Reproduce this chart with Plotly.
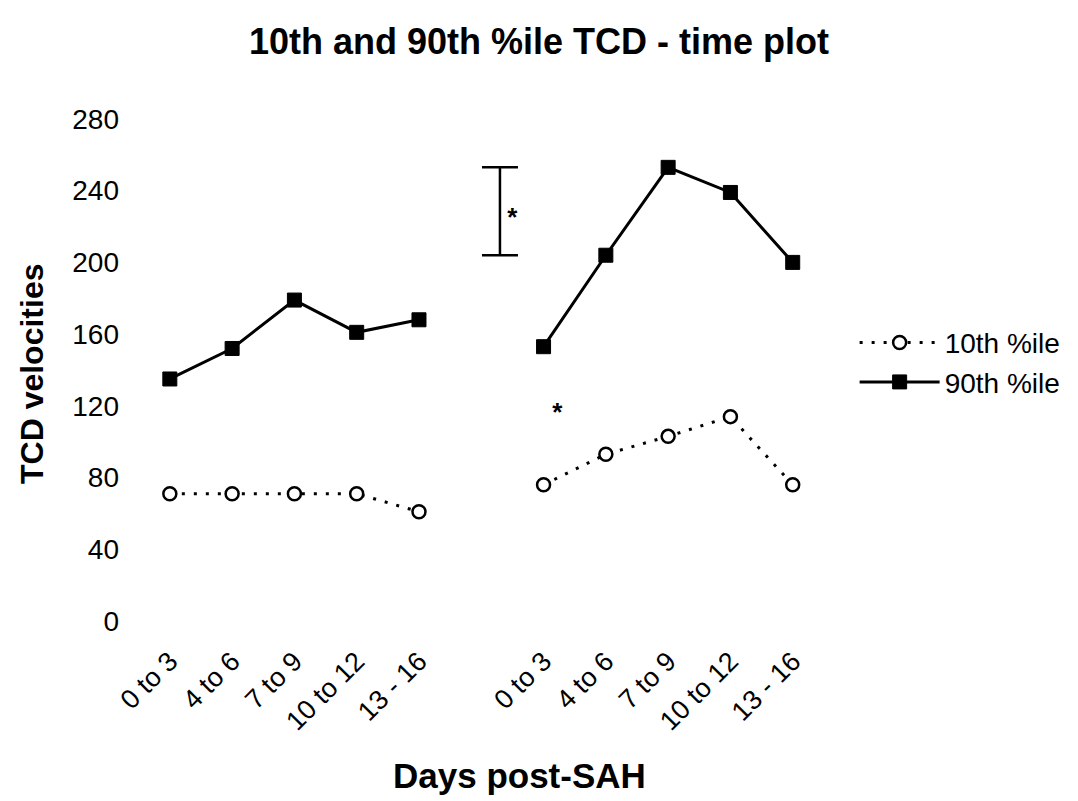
import plotly.graph_objects as go

# ---- data ----
categories = ["0 to 3", "4 to 6", "7 to 9", "10 to 12", "13 - 16"]
p10_group1 = [71, 71, 71, 71, 61]
p10_group2 = [76, 93, 103, 114, 76]
p90_group1 = [135, 152, 179, 161, 168]
p90_group2 = [153, 204, 253, 239, 200]
y_ticks = [0, 40, 80, 120, 160, 200, 240, 280]
# significance bracket between groups (low/high) and asterisks
bracket_low, bracket_high = 204, 253
star_values = [224, 115]

FONT = "Liberation Sans, Arial, sans-serif"

# the page body adds an 8px offset; the figure is sized to fit the window
W, H = 1070, 793

n = len(categories)
x1 = list(range(n))
x2 = [i + n + 1 for i in range(n)]
xs = x1 + [None] + x2
tickvals = x1 + x2
ticktext = categories + categories

fig = go.Figure()

fig.add_trace(go.Scatter(
    x=xs, y=p10_group1 + [None] + p10_group2,
    mode="lines+markers", name="10th %ile",
    line=dict(color="black", width=3, dash="3px,9px"),
    marker=dict(symbol="circle", size=13, color="white",
                line=dict(color="black", width=2.5)),
    connectgaps=False,
))
fig.add_trace(go.Scatter(
    x=xs, y=p90_group1 + [None] + p90_group2,
    mode="lines+markers", name="90th %ile",
    line=dict(color="black", width=3),
    marker=dict(symbol="square", size=14, color="black",
                line=dict(color="black", width=1)),
    connectgaps=False,
))

# bracket (drawn as an error bar)
bx = n + 0.3
fig.add_trace(go.Scatter(
    x=[bx], y=[(bracket_low + bracket_high) / 2],
    mode="markers", marker=dict(size=1, color="rgba(0,0,0,0)"),
    error_y=dict(type="data", array=[(bracket_high - bracket_low) / 2],
                 color="black", thickness=2.5, width=18),
    showlegend=False, hoverinfo="skip",
))
# asterisks
fig.add_trace(go.Scatter(
    x=[n + 0.5, n + 1.22], y=star_values,
    mode="text", text=["<b>*</b>", "<b>*</b>"],
    textfont=dict(family=FONT, size=26, color="black"),
    textposition="middle center",
    showlegend=False, hoverinfo="skip",
))

fig.update_layout(
    width=W, height=H,
    paper_bgcolor="white", plot_bgcolor="white",
    margin=dict(l=112, r=223, t=93, b=162),
    font=dict(family=FONT, color="black"),
    title=dict(text="<b>10th and 90th %ile TCD - time plot</b>",
               xref="container", x=531 / W, xanchor="center",
               yref="container", y=1 - 33 / H, yanchor="middle",
               font=dict(family=FONT, size=36, color="black")),
    showlegend=True,
    legend=dict(x=0.9995, xanchor="left", y=0.597, yanchor="top",
                font=dict(family=FONT, size=28, color="black"),
                itemwidth=80, bgcolor="rgba(0,0,0,0)", traceorder="normal"),
    xaxis=dict(range=[-0.8, 2 * n + 1], tickmode="array",
               tickvals=tickvals, ticktext=ticktext, tickangle=-45,
               tickfont=dict(family=FONT, size=27, color="black"),
               showgrid=False, zeroline=False, showline=False, ticks=""),
    yaxis=dict(range=[-10, 290], tickmode="array", tickvals=y_ticks,
               tickfont=dict(family=FONT, size=28, color="black"),
               showgrid=False, zeroline=False, showline=False, ticks=""),
    annotations=[
        dict(text="<b>Days post-SAH</b>", xref="paper", yref="paper",
             x=0.544, y=-0.253, xanchor="center", yanchor="middle",
             showarrow=False, font=dict(family=FONT, size=35, color="black")),
        dict(text="<b>TCD velocities</b>", xref="paper", yref="paper",
             x=-0.12, y=0.494, xanchor="center", yanchor="middle",
             textangle=-90, showarrow=False,
             font=dict(family=FONT, size=32, color="black")),
    ],
)

fig.write_html("out.html")
